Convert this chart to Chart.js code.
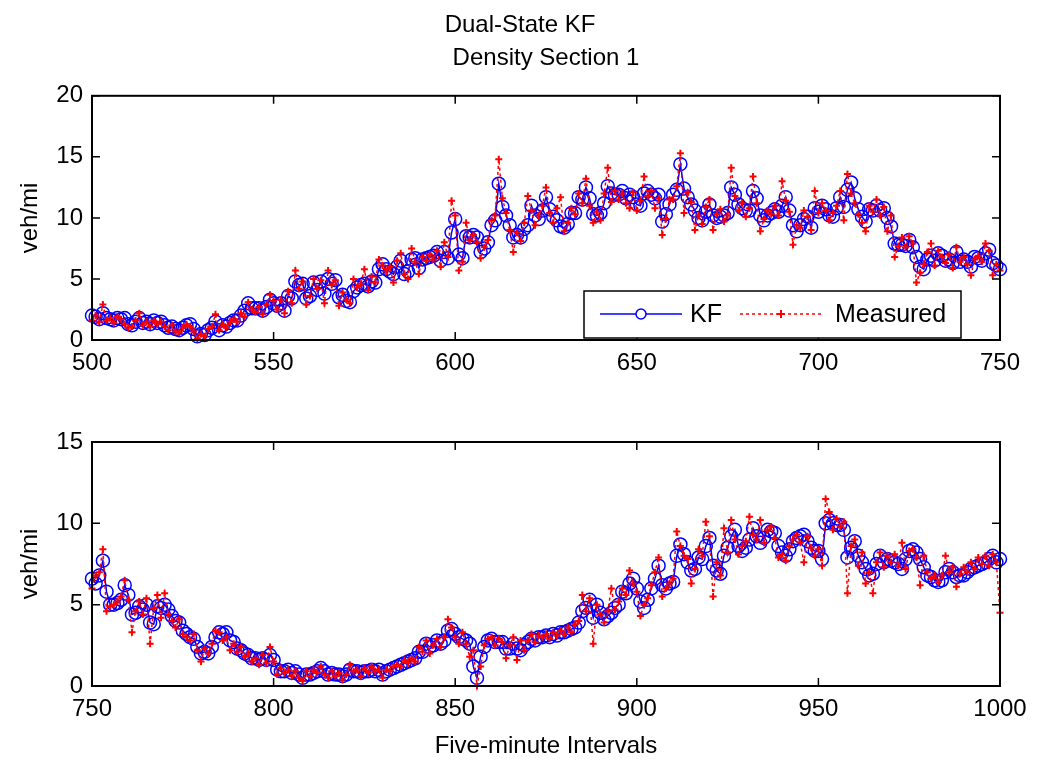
<!DOCTYPE html>
<html>
<head>
<meta charset="utf-8">
<script src="https://cdn.jsdelivr.net/npm/chart.js@4.4.1/dist/chart.umd.min.js"></script>
<style>
body { margin: 0; background: #fff; }
#wrap { position: relative; width: 1037px; height: 771px; overflow: hidden; }
#suptitle { position: absolute; left: 0; width: 1040px; top: 10px; line-height: 28px; text-align: center;
  font: 24px 'Liberation Sans', Arial, sans-serif; color: #000; }
#topCanvas { position: absolute; left: 0; top: 0; }
#botCanvas { position: absolute; left: 0; top: 390px; }
</style>
</head>
<body>
<div id="wrap">
  <canvas id="topCanvas" width="1037" height="390"></canvas>
  <canvas id="botCanvas" width="1037" height="381"></canvas>
  <div id="suptitle">Dual-State KF</div>
</div>
<script>
// first interval of each panel
var topStart = 500;
var botStart = 750;

var xTicksTop = [500, 550, 600, 650, 700, 750];
var xTicksBot = [750, 800, 850, 900, 950, 1000];
var yMaxTop = 20;
var yMaxBot = 15;

var kfTop = [
  2.0, 1.9, 1.7, 2.2, 1.8, 1.7, 1.6, 1.8, 1.7, 1.8,
  1.3, 1.2, 1.5, 1.8, 1.4, 1.5, 1.3, 1.6, 1.4, 1.5,
  1.2, 1.0, 1.1, 0.9, 0.8, 1.0, 1.2, 1.3, 0.9, 0.3,
  0.5, 0.4, 0.8, 1.0, 1.5, 0.8, 1.2, 1.1, 1.4, 1.6,
  1.6, 2.0, 2.4, 3.0, 2.6, 2.6, 2.6, 2.4, 2.7, 3.3,
  3.0, 2.8, 3.0, 2.4, 3.6, 3.4, 4.8, 4.5, 4.6, 3.4,
  3.6, 4.7, 4.1, 4.8, 3.8, 5.0, 4.6, 4.9, 3.5, 3.7,
  3.2, 3.1, 4.0, 4.3, 4.5, 4.6, 4.4, 4.8, 4.7, 5.8,
  6.2, 5.8, 5.6, 5.4, 6.0, 6.5, 5.4, 5.6, 6.6, 6.7,
  5.9, 6.6, 6.7, 6.8, 6.9, 7.2, 6.5, 7.2, 6.7, 8.8,
  9.9, 7.0, 6.7, 8.5, 8.4, 8.6, 8.4, 7.2, 7.5, 8.0,
  9.4, 9.8, 12.8, 10.9, 10.2, 9.4, 8.4, 8.6, 8.4, 9.1,
  9.4, 11.0, 10.2, 9.9, 10.6, 11.7, 10.7, 10.1, 9.8, 9.3,
  9.2, 9.5, 10.4, 10.4, 11.7, 11.5, 12.5, 11.6, 10.3, 10.2,
  10.4, 11.2, 12.6, 12.0, 11.9, 11.9, 12.2, 11.6, 11.9, 11.7,
  11.1, 11.0, 12.0, 12.2, 11.9, 11.6, 11.9, 9.7, 10.3, 11.1,
  11.9, 12.3, 14.4, 12.4, 11.7, 11.1, 10.6, 10.0, 9.8, 10.5,
  11.1, 10.2, 10.0, 10.1, 10.2, 10.4, 12.5, 11.9, 11.1, 10.8,
  10.6, 10.6, 12.2, 11.6, 10.2, 9.8, 10.2, 10.4, 10.7, 10.5,
  11.0, 11.7, 10.6, 9.4, 8.9, 9.4, 9.9, 10.1, 9.2, 10.8,
  10.5, 11.0, 10.7, 10.2, 10.1, 10.8, 11.7, 10.9, 12.3, 12.9,
  11.6, 10.7, 10.1, 9.7, 10.7, 10.6, 11.0, 10.6, 10.8, 10.0,
  9.3, 7.9, 7.8, 7.8, 7.7, 8.2, 7.6, 6.8, 6.0, 5.8,
  6.6, 6.9, 6.5, 7.1, 6.9, 6.5, 6.6, 6.3, 7.2, 6.4,
  6.6, 6.4, 6.0, 6.8, 6.7, 6.5, 7.1, 7.4, 6.3, 6.1, 5.8
];
var measTop = [
  1.6, 2.0, 1.5, 2.9, 1.6, 1.8, 1.4, 1.9, 1.7, 1.3,
  1.0, 1.1, 1.6, 2.2, 1.2, 1.5, 1.1, 1.6, 1.3, 1.5,
  1.1, 0.8, 1.2, 0.7, 0.6, 1.0, 1.3, 1.1, 0.7, 0.1,
  0.5, 0.3, 0.9, 1.1, 2.1, 0.8, 1.3, 1.0, 1.5, 1.7,
  1.5, 2.2, 1.9, 3.1, 2.5, 2.3, 2.7, 2.1, 2.9, 3.7,
  3.2, 2.5, 3.3, 2.2, 4.0, 3.0, 5.7, 4.2, 4.8, 2.9,
  3.6, 5.0, 4.2, 4.9, 3.0, 5.7, 4.5, 4.9, 2.8, 3.9,
  3.3, 3.0, 5.0, 4.3, 4.6, 5.8, 4.1, 5.2, 4.7, 6.6,
  6.1, 5.6, 6.0, 4.7, 6.5, 7.1, 5.4, 5.0, 7.5, 6.4,
  5.4, 6.8, 6.5, 7.0, 6.6, 7.3, 6.0, 8.0, 6.8, 11.4,
  10.2, 5.7, 6.4, 9.6, 8.2, 8.6, 8.0, 6.7, 7.6, 8.2,
  9.8, 10.2, 14.8, 11.6, 10.4, 9.0, 7.2, 8.8, 8.1, 9.6,
  11.8, 10.6, 9.4, 10.2, 11.0, 12.5, 10.4, 9.6, 10.8, 11.7,
  8.9, 9.6, 10.8, 10.3, 12.0, 11.2, 13.2, 11.0, 9.6, 10.5,
  9.8, 12.0, 14.1, 11.3, 12.2, 11.5, 12.0, 11.2, 10.8, 12.1,
  10.6, 11.4, 13.4, 11.8, 12.2, 10.8, 11.6, 8.6, 9.9, 11.5,
  11.5, 12.6, 15.3, 10.4, 12.1, 11.3, 9.0, 10.2, 9.5, 10.9,
  11.5, 9.0, 10.3, 10.7, 9.7, 10.2, 14.1, 11.8, 10.6, 11.2,
  10.1, 10.8, 13.4, 11.2, 8.9, 9.9, 10.6, 10.3, 11.0, 10.2,
  13.0, 11.4, 10.5, 7.8, 9.4, 9.2, 10.6, 10.1, 9.0, 12.2,
  10.4, 11.2, 10.6, 9.8, 10.4, 11.0, 12.2, 9.8, 13.6, 12.0,
  11.2, 10.3, 9.6, 8.9, 11.0, 10.5, 11.5, 10.2, 10.9, 8.9,
  10.2, 6.8, 7.7, 8.4, 7.6, 8.5, 7.9, 4.7, 5.5, 6.2,
  7.2, 7.9, 6.1, 7.3, 6.8, 6.3, 7.0, 5.9, 7.6, 6.4,
  6.8, 6.2, 5.3, 6.6, 6.9, 6.4, 7.9, 7.3, 5.3, 6.2, 5.7
];

var kfBot = [
  6.6, 6.3, 6.8, 7.7, 5.8, 5.0, 5.0, 5.1, 5.3, 6.2,
  5.6, 4.4, 4.5, 4.9, 4.7, 5.0, 3.9, 3.8, 4.9, 4.8,
  5.0, 4.7, 4.3, 4.0, 3.9, 3.4, 3.2, 3.0, 2.9, 2.4,
  2.0, 2.1, 2.0, 2.4, 3.0, 3.3, 3.2, 3.3, 2.8, 2.7,
  2.3, 2.2, 2.0, 1.9, 1.7, 1.7, 1.6, 1.7, 1.6, 1.9,
  1.6, 1.0, 0.9, 0.9, 1.0, 0.8, 0.9, 0.7, 0.5, 0.7,
  0.7, 0.8, 0.9, 1.1, 0.9, 0.7, 0.8, 0.7, 0.7, 0.6,
  0.7, 1.0, 0.9, 0.9, 0.8, 0.9, 0.9, 1.0, 0.9, 1.0,
  0.7, 0.9, 1.0, 1.1, 1.2, 1.3, 1.4, 1.5, 1.6, 1.7,
  2.1, 2.1, 2.6, 2.4, 2.5, 2.8, 2.6, 2.8, 3.4, 3.5,
  3.2, 3.0, 2.9, 2.8, 2.6, 1.2, 0.5, 1.8, 2.4, 2.8,
  2.9, 2.7, 2.7, 2.7, 2.3, 2.3, 2.6, 2.3, 2.2, 2.5,
  2.7, 2.9, 2.8, 3.0, 3.0, 3.1, 3.0, 3.2, 3.1, 3.3,
  3.3, 3.4, 3.5, 3.6, 3.9, 4.6, 4.8, 5.3, 4.2, 5.0,
  4.5, 4.1, 4.3, 4.5, 4.8, 5.0, 5.8, 5.7, 6.3, 6.6,
  6.0, 5.2, 4.8, 5.3, 6.0, 6.6, 7.4, 6.2, 6.0, 6.3,
  6.4, 8.0, 8.7, 8.1, 7.6, 7.1, 7.2, 7.9, 7.8, 8.6,
  9.1, 7.4, 7.1, 6.9, 8.0, 8.5, 9.2, 9.6, 8.6, 8.3,
  8.5, 9.0, 9.7, 9.2, 8.8, 9.1, 9.6, 9.5, 9.4, 8.6,
  8.2, 8.0, 8.4, 8.9, 9.1, 9.2, 9.3, 8.9, 8.5, 8.3,
  8.3, 7.8, 10.0, 10.2, 10.0, 9.9, 9.9, 9.6, 7.9, 8.5,
  8.9, 8.0, 7.6, 7.2, 6.8, 6.9, 7.5, 8.0, 7.6, 7.8,
  7.7, 7.6, 7.5, 7.2, 7.8, 8.3, 8.4, 8.2, 7.8, 7.3,
  6.8, 6.7, 6.5, 6.4, 6.5, 7.0, 7.2, 7.0, 6.7, 6.8,
  6.8, 7.0, 7.2, 7.3, 7.4, 7.5, 7.6, 7.8, 8.0, 7.6, 7.8
];
var measBot = [
  6.0, 6.8, 7.0, 8.4, 4.6, 4.9, 5.0, 5.2, 5.5, 6.5,
  5.3, 3.3, 4.6, 5.2, 4.4, 5.4, 2.6, 4.8, 5.6, 4.2,
  5.7, 4.4, 4.0, 3.6, 4.1, 3.2, 3.0, 2.8, 3.2, 2.2,
  1.5, 2.3, 2.0, 2.6, 3.4, 3.3, 2.8, 3.0, 2.2, 2.6,
  2.1, 2.4, 1.8, 2.0, 1.5, 1.7, 1.3, 1.9, 1.4, 2.4,
  1.5, 0.7, 1.1, 0.8, 1.0, 0.6, 0.9, 0.5, 0.3, 0.9,
  0.6, 1.0, 0.8, 1.2, 0.7, 0.5, 0.9, 0.6, 0.8, 0.4,
  0.7, 1.3, 0.9, 1.0, 0.6, 1.1, 0.8, 1.2, 0.9, 1.0,
  0.5, 1.0, 0.9, 1.2, 1.3, 1.2, 1.6, 1.4, 1.7, 1.5,
  2.4, 2.1, 2.8, 2.0, 2.5, 2.9, 2.4, 3.0, 4.1, 3.6,
  3.0, 2.6, 3.3, 2.6, 1.8, 2.2, 0.0, 1.2, 2.5, 2.9,
  3.0, 2.5, 2.9, 2.7, 1.7, 2.5, 3.0, 1.6, 2.8, 2.2,
  2.8, 3.2, 2.7, 3.1, 3.0, 3.2, 2.9, 3.3, 3.1, 3.4,
  3.2, 3.6, 3.3, 3.8, 4.0, 5.6, 4.6, 5.4, 2.6, 5.0,
  4.4, 3.9, 4.6, 6.0, 4.7, 5.2, 6.0, 5.6, 7.1, 6.3,
  5.8, 4.3, 5.0, 5.4, 6.2, 7.0, 7.9, 5.5, 6.0, 6.3,
  6.6, 9.5, 8.6, 8.0, 7.8, 6.3, 7.2, 8.4, 8.0, 10.1,
  9.2, 5.5, 7.6, 6.8, 9.7, 8.2, 10.2, 9.0, 8.1, 8.6,
  8.9, 10.4, 9.3, 9.0, 10.2, 8.8, 9.6, 9.8, 9.1, 7.9,
  8.1, 7.7, 8.6, 9.0, 9.3, 8.8, 7.6, 9.2, 8.5, 8.0,
  8.4, 7.4, 11.5, 10.7, 9.6, 10.3, 9.8, 10.1, 5.7, 8.6,
  9.0, 7.4, 8.2, 6.3, 7.0, 5.7, 7.6, 8.2, 7.3, 8.0,
  7.6, 8.1, 7.4, 8.8, 7.2, 8.3, 8.4, 7.9, 6.2, 8.0,
  7.0, 6.6, 6.8, 6.4, 6.8, 8.0, 7.0, 7.3, 6.1, 6.9,
  7.3, 7.0, 7.6, 7.2, 7.9, 7.5, 8.0, 7.4, 8.1, 7.6, 4.5
];

Chart.defaults.font.family = "'Liberation Sans', Arial, sans-serif";
Chart.defaults.font.size = 24;
Chart.defaults.color = '#000';

function toPoints(start, values) {
    return values.map(function(v, i) { return {x: start + i, y: v}; });
}

// matlab style box with inward ticks on all four sides
var framePlugin = {
    id: 'frame',
    afterDatasetsDraw: function(chart) {
        var ctx = chart.ctx, a = chart.chartArea;
        var xs = chart.scales.x, ys = chart.scales.y;
        ctx.save();
        ctx.strokeStyle = '#000';
        ctx.lineWidth = 1.5;
        ctx.beginPath();
        xs.ticks.forEach(function(t) {
            var px = xs.getPixelForValue(t.value);
            ctx.moveTo(px, a.bottom); ctx.lineTo(px, a.bottom - 8);
            ctx.moveTo(px, a.top); ctx.lineTo(px, a.top + 8);
        });
        ys.ticks.forEach(function(t) {
            var py = ys.getPixelForValue(t.value);
            ctx.moveTo(a.left, py); ctx.lineTo(a.left + 8, py);
            ctx.moveTo(a.right, py); ctx.lineTo(a.right - 8, py);
        });
        ctx.stroke();
        ctx.lineWidth = 2;
        ctx.strokeRect(a.left, a.top, a.right - a.left, a.bottom - a.top);
        ctx.restore();
    }
};

var legendPlugin = {
    id: 'boxLegend',
    afterDraw: function(chart) {
        var ctx = chart.ctx;
        var ds = chart.data.datasets;
        var bx = 584, by = 291, bw = 377, bh = 47, my = 314;
        ctx.save();
        ctx.fillStyle = '#fff';
        ctx.fillRect(bx, by, bw, bh);
        ctx.strokeStyle = '#000';
        ctx.lineWidth = 1.5;
        ctx.strokeRect(bx, by, bw, bh);

        ctx.strokeStyle = ds[0].borderColor;
        ctx.lineWidth = 1.5;
        ctx.beginPath(); ctx.moveTo(600, my); ctx.lineTo(682, my); ctx.stroke();
        ctx.fillStyle = '#fff';
        ctx.beginPath(); ctx.arc(641, my, 5, 0, Math.PI * 2); ctx.fill(); ctx.stroke();

        ctx.strokeStyle = ds[1].borderColor;
        ctx.setLineDash([3, 3]);
        ctx.beginPath(); ctx.moveTo(740, my); ctx.lineTo(822, my); ctx.stroke();
        ctx.setLineDash([]);
        ctx.lineWidth = 2;
        ctx.beginPath();
        ctx.moveTo(777, my); ctx.lineTo(785, my);
        ctx.moveTo(781, my - 4); ctx.lineTo(781, my + 4);
        ctx.stroke();

        ctx.fillStyle = '#000';
        ctx.font = "25px 'Liberation Sans', Arial, sans-serif";
        ctx.textBaseline = 'middle';
        ctx.fillText(ds[0].label, 690, my + 1);
        ctx.fillText(ds[1].label, 835, my + 1);
        ctx.restore();
    }
};

function makeChart(canvasId, start, kf, meas, xTicks, yMax, extra) {
    var ctx = document.getElementById(canvasId).getContext('2d');
    return new Chart(ctx, {
        type: 'line',
        data: {
            datasets: [{
                label: 'KF',
                data: toPoints(start, kf),
                borderColor: '#0000ff',
                borderWidth: 1.5,
                pointStyle: 'circle',
                pointRadius: 6.5,
                pointBorderWidth: 1.5,
                pointBackgroundColor: 'rgba(0,0,0,0)',
                fill: false,
                tension: 0,
                clip: false,
                order: 2
            }, {
                label: 'Measured',
                data: toPoints(start, meas),
                borderColor: '#ff0000',
                borderWidth: 1.5,
                borderDash: [3, 3],
                pointStyle: 'cross',
                pointRadius: 3.5,
                pointBorderWidth: 2,
                fill: false,
                tension: 0,
                clip: false,
                order: 1
            }]
        },
        options: {
            responsive: false,
            animation: false,
            devicePixelRatio: 1,
            layout: { padding: { top: extra.padTop, right: 37, bottom: 0, left: 0 } },
            plugins: {
                legend: { display: false },
                tooltip: { enabled: false },
                title: extra.title
            },
            scales: {
                x: {
                    type: 'linear',
                    min: xTicks[0],
                    max: xTicks[xTicks.length - 1],
                    grid: { display: false, drawTicks: false },
                    border: { display: false },
                    afterFit: function(s) { s.height = extra.xHeight; },
                    afterBuildTicks: function(s) { s.ticks = xTicks.map(function(v) { return {value: v}; }); },
                    ticks: { padding: 9, maxRotation: 0, autoSkip: false,
                             callback: function(v) { return String(v); } },
                    title: extra.xTitle
                },
                y: {
                    min: 0,
                    max: yMax,
                    grid: { display: false, drawTicks: false },
                    border: { display: false },
                    afterFit: function(s) { s.width = 92; },
                    ticks: { stepSize: 5, padding: 9 },
                    title: { display: true, text: 'veh/mi', padding: { top: 16, bottom: 0 } }
                }
            }
        },
        plugins: extra.plugins
    });
}

const chartTop = makeChart('topCanvas', topStart, kfTop, measTop, xTicksTop, yMaxTop, {
    padTop: 0,
    xHeight: 50,
    title: { display: true, text: 'Density Section 1', fullSize: false,
             font: { size: 24, weight: 'normal' }, padding: { top: 44, bottom: 23 } },
    xTitle: { display: false },
    plugins: [framePlugin, legendPlugin]
});

const chartBot = makeChart('botCanvas', botStart, kfBot, measBot, xTicksBot, yMaxBot, {
    padTop: 52,
    xHeight: 85,
    title: { display: false },
    xTitle: { display: true, text: 'Five-minute Intervals', padding: { top: 0, bottom: 10 } },
    plugins: [framePlugin]
});
</script>
</body>
</html>
